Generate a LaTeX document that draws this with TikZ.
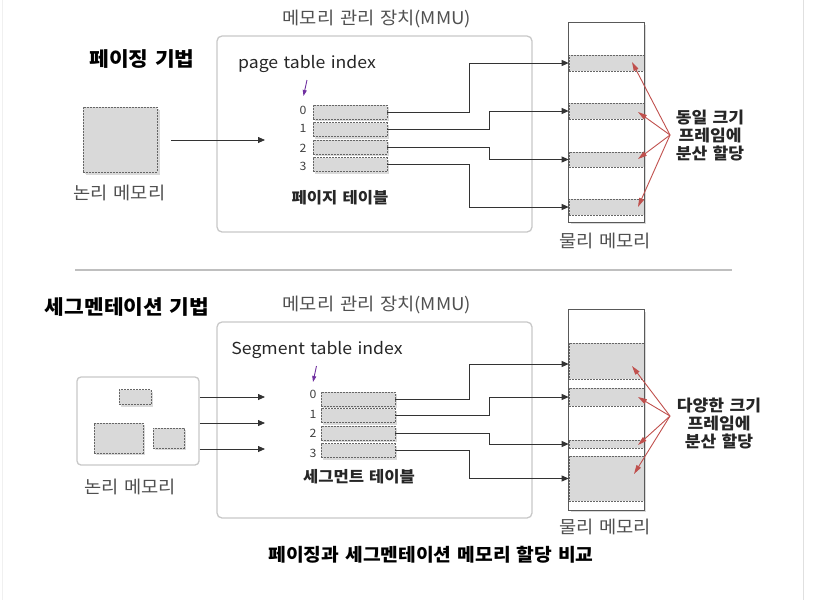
\documentclass[tikz,border=0pt]{standalone}
\usepackage{fontspec}
\setmainfont{Noto Sans CJK KR}[FakeStretch=1.07, WordSpace=1.35]
\usetikzlibrary{arrows.meta,shadows,calc}
\definecolor{boxgray}{HTML}{D9D9D9}
\definecolor{edgegray}{HTML}{C8C8C8}
\definecolor{txtgray}{HTML}{505050}
\definecolor{redarr}{HTML}{C0504D}
\definecolor{purarr}{HTML}{7030A0}
\begin{document}
\begin{tikzpicture}[x=1pt,y=-1pt,
  cell/.style={draw=black!60, dash pattern=on 2pt off 1pt, line width=0.7pt, fill=boxgray,
    minimum width=74pt, minimum height=14pt, inner sep=0pt,
    general shadow={fill=black!15, shadow xshift=2pt, shadow yshift=-2pt}},
  frame/.style={draw=black!60, dash pattern=on 2pt off 1pt, line width=0.7pt, fill=boxgray,
    minimum width=75pt, inner sep=0pt},
  mmubox/.style={draw=edgegray, line width=1.3pt, rounded corners=5pt,
    minimum width=315pt, minimum height=196pt, inner sep=0pt},
  pmem/.style={fill=white, minimum width=75pt, inner sep=0pt,
    general shadow={fill=black!15, shadow xshift=2pt, shadow yshift=-2pt}},
  pborder/.style={draw=black!65, line width=0.9pt},
  conn/.style={draw=black!80, line width=0.8pt, -{Triangle[length=7pt,width=6pt]}},
  redline/.style={draw=redarr, line width=0.9pt, -{Triangle[length=9pt,width=5pt]}},
  purline/.style={draw=purarr, line width=0.9pt, -{Triangle[length=6pt,width=4pt]}},
  title/.style={font=\fontsize{20}{23}\selectfont\bfseries, text=black},
  lbl/.style={font=\fontsize{17.5}{21}\selectfont, text=txtgray, inner sep=0pt},
  idx/.style={font=\fontsize{16.5}{20}\selectfont, text=black!85, inner sep=0pt},
  tbl/.style={font=\fontsize{15.5}{18}\selectfont\bfseries, text=black!85, inner sep=0pt},
  digit/.style={font=\fontsize{11.5}{14}\selectfont, text=black!75, inner sep=0pt},
  note/.style={font=\fontsize{16}{18}\selectfont\bfseries, text=black!85, align=center, inner sep=0pt}
]
\useasboundingbox (0,0) rectangle (822,600);
\draw[black!6, line width=1pt] (2,0) -- (2,600);
\draw[black!12, line width=1pt] (803,0) -- (803,600);

% ================= TOP: paging =================
\node[title] (t1) at (142,59) {페이징 기법};
\node[mmubox] (mmu1) at (374.5,134) {};
\node[lbl] (mmu1l) at (377,19) {메모리 관리 장치(MMU)};
\node[idx] (pti) at (307,64) {page table index};
\coordinate (pa0) at (307,80);
\coordinate (pa1) at (303.5,96);
\draw[purline] (pa0) -- (pa1);

\node[cell] (p0) at (350,112) {};
\node[cell] (p1) at (350,129.5) {};
\node[cell] (p2) at (350,147) {};
\node[cell] (p3) at (350,164.5) {};
\node[digit, anchor=east] (d0) at ($(p0.west)+(-6,-2)$) {0};
\node[digit, anchor=east] (d1) at ($(p1.west)+(-6,-1)$) {1};
\node[digit, anchor=east] (d2) at ($(p2.west)+(-6,1)$) {2};
\node[digit, anchor=east] (d3) at ($(p3.west)+(-6,2)$) {3};
\node[tbl] (pt) at (340,198) {페이지 테이블};

\node[cell, minimum width=74pt, minimum height=65pt,
  general shadow={fill=black!15, shadow xshift=3pt, shadow yshift=-3pt}] (lm1) at (120,139.5) {};
\node[lbl] (lm1l) at (119.5,193) {논리 메모리};
\coordinate (ta) at (265,140);
\draw[conn] ($(lm1.east)+(14,0.5)$) -- (ta);

\node[pmem, minimum height=199pt] (pm1) at (606.5,122.5) {};
\node[frame, minimum height=16pt] (f0) at (606.5,63) {};
\node[frame, minimum height=16pt] (f1) at (606.5,111) {};
\node[frame, minimum height=15pt] (f2) at (606.5,159.5) {};
\node[frame, minimum height=16pt] (f3) at (606.5,207) {};
\draw[pborder] (pm1.north west) rectangle (pm1.south east);
\node[lbl] (pm1l) at (605,241) {물리 메모리};

\coordinate (ja) at (469,0);
\coordinate (jb) at (489,0);
\draw[conn] (p0.east) -| (ja |- f0.west) -- (f0.west);
\draw[conn] (p1.east) -| (jb |- f1.west) -- (f1.west);
\draw[conn] (p2.east) -| (jb |- f2.west) -- (f2.west);
\draw[conn] (p3.east) -| (ja |- f3.west) -- (f3.west);

\node[note] (n1) at (710,136) {동일 크기\\프레임에\\분산 할당};
\coordinate (rc1) at (670,135);
\coordinate (r10) at (632,62);
\coordinate (r11) at (638,112);
\coordinate (r12) at (638,159);
\coordinate (r13) at (638,207);
\draw[redline] (rc1) -- (r10);
\draw[redline] (rc1) -- (r11);
\draw[redline] (rc1) -- (r12);
\draw[redline] (rc1) -- (r13);

% separator
\draw[black!25, line width=1.5pt] (75,270) -- (732,270);

% ================= BOTTOM: segmentation =================
\node[title] (t2) at (127,307) {세그멘테이션 기법};
\node[mmubox] (mmu2) at (374.5,420) {};
\node[lbl] (mmu2l) at (377,305) {메모리 관리 장치(MMU)};
\node[idx] (sti) at (317,350) {Segment table index};
\coordinate (sa0) at (316.5,366);
\coordinate (sa1) at (313,382);
\draw[purline] (sa0) -- (sa1);

\node[cell] (q0) at (358,399) {};
\node[cell] (q1) at (358,415.5) {};
\node[cell] (q2) at (358,433) {};
\node[cell] (q3) at (358,450.5) {};
\node[digit, anchor=east] (e0) at ($(q0.west)+(-4,-5)$) {0};
\node[digit, anchor=east] (e1) at ($(q1.west)+(-4,-1)$) {1};
\node[digit, anchor=east] (e2) at ($(q2.west)+(-4,0)$) {2};
\node[digit, anchor=east] (e3) at ($(q3.west)+(-4,3)$) {3};
\node[tbl] (st) at (359,477) {세그먼트 테이블};

\node[draw=edgegray, line width=1.3pt, rounded corners=4pt, fill=white,
  minimum width=122pt, minimum height=88pt, inner sep=0pt] (lm2) at (138,421) {};
\node[cell, minimum width=32pt, minimum height=15pt] (g0) at (135,397) {};
\node[cell, minimum width=49pt, minimum height=30pt] (g1) at (118.5,438) {};
\node[cell, minimum width=31pt, minimum height=20pt] (g2) at (168.5,438) {};
\node[lbl] (lm2l) at (130,487) {논리 메모리};
\coordinate (b0) at (265,397);
\coordinate (b1) at (265,423);
\coordinate (b2) at (265,449);
\draw[conn] (lm2.east |- b0) -- (b0);
\draw[conn] (lm2.east |- b1) -- (b1);
\draw[conn] (lm2.east |- b2) -- (b2);

\node[pmem, minimum height=200pt] (pm2) at (606.5,410) {};
\node[frame, minimum height=36pt] (s0) at (606.5,361) {};
\node[frame, minimum height=18pt] (s1) at (606.5,397) {};
\node[frame, minimum height=8pt] (s2) at (606.5,444) {};
\node[frame, minimum height=45pt] (s3) at (606.5,478.5) {};
\draw[pborder] (pm2.north west) rectangle (pm2.south east);
\node[lbl] (pm2l) at (605,527) {물리 메모리};

\draw[conn] (q0.east) -| ($(ja |- s0.west)+(0,3)$) -- ($(s0.west)+(0,3)$);
\draw[conn] (q1.east) -| (jb |- s1.west) -- (s1.west);
\draw[conn] (q2.east) -| (jb |- s2.west) -- (s2.west);
\draw[conn] (q3.east) -| (ja |- s3.west) -- (s3.west);

\node[note] (n2) at (719,424) {다양한 크기\\프레임에\\분산 할당};
\coordinate (rc2) at (670,416);
\coordinate (r20) at (632,366);
\coordinate (r21) at (638,397);
\coordinate (r22) at (638,445);
\coordinate (r23) at (634,474);
\draw[redline] (rc2) -- (r20);
\draw[redline] (rc2) -- (r21);
\draw[redline] (rc2) -- (r22);
\draw[redline] (rc2) -- (r23);

\node[font=\fontsize{18}{21}\selectfont\bfseries, inner sep=0pt] (cap) at (431,555) {페이징과 세그멘테이션 메모리 할당 비교};
\end{tikzpicture}
\end{document}
